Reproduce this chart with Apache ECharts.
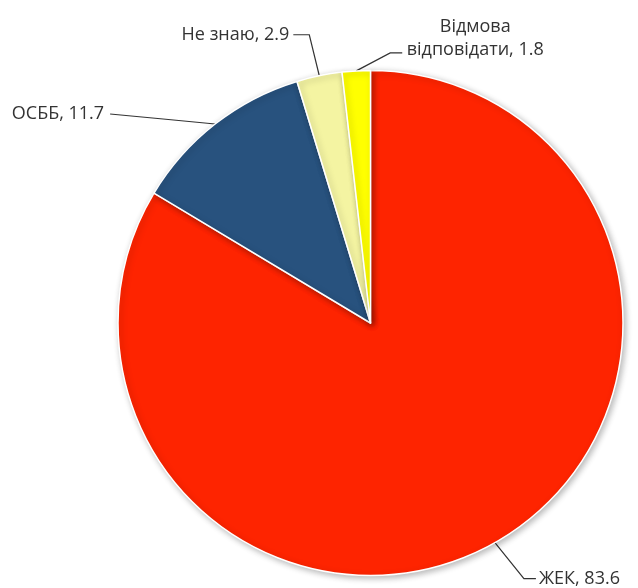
<!DOCTYPE html>
<html>
<head>
<meta charset="utf-8">
<script src="https://cdn.jsdelivr.net/npm/echarts@6/dist/echarts.min.js"></script>
<style>
  html, body { margin: 0; padding: 0; background: #fff; }
  #chart { width: 638px; height: 588px; }
</style>
</head>
<body>
<div id="chart"></div>
<script>
// Share of answers, percent
const categories = ['ЖЕК', 'ОСББ', 'Не знаю', 'Відмова\nвідповідати'];
const values = [83.6, 11.7, 2.9, 1.8];
const colors = ['#fe2400', '#28527e', '#f4f4a2', '#ffff00'];

// Leader line routing per slice: offsets from the slice edge point
const leaders = [
  { bend: [29, 36], run: [12, 0], text: [3, 0], align: 'left' },
  { bend: [-52, -5], run: [-53, -5], text: [-6, 0], align: 'right' },
  { bend: [-10, -41], run: [-16, 0], text: [-4, 0], align: 'right' },
  { bend: [34, -18], run: [12, 0], text: [73, -15], align: 'center' }
];

const chart = echarts.init(document.getElementById('chart'), null, { renderer: 'canvas' });

chart.setOption({
  animation: false,
  backgroundColor: '#ffffff',
  series: [{
    type: 'pie',
    center: [370.5, 323],
    radius: 252.5,
    startAngle: 90,
    clockwise: true,
    avoidLabelOverlap: false,
    data: categories.map((name, i) => ({
      name: name,
      value: values[i],
      itemStyle: { color: colors[i] }
    })),
    itemStyle: {
      borderColor: '#ffffff',
      borderWidth: 1.5,
      shadowBlur: 6,
      shadowColor: 'rgba(0,0,0,0.28)',
      shadowOffsetX: 2,
      shadowOffsetY: 2
    },
    label: {
      show: true,
      position: 'outside',
      formatter: '{b}, {c}',
      fontFamily: 'Open Sans',
      fontSize: 18,
      lineHeight: 23,
      color: '#333333'
    },
    labelLine: {
      show: true,
      length: 20,
      length2: 10,
      lineStyle: { color: '#333333', width: 1.2 }
    },
    emphasis: { disabled: true },
    labelLayout: function (params) {
      const L = leaders[params.dataIndex];
      const p0 = params.labelLinePoints[0];
      const p1 = [p0[0] + L.bend[0], p0[1] + L.bend[1]];
      const p2 = [p1[0] + L.run[0], p1[1] + L.run[1]];
      return {
        x: p2[0] + L.text[0],
        y: p2[1] + L.text[1],
        align: L.align,
        verticalAlign: 'middle',
        labelLinePoints: [p0, p1, p2]
      };
    }
  }]
});
</script>
</body>
</html>
